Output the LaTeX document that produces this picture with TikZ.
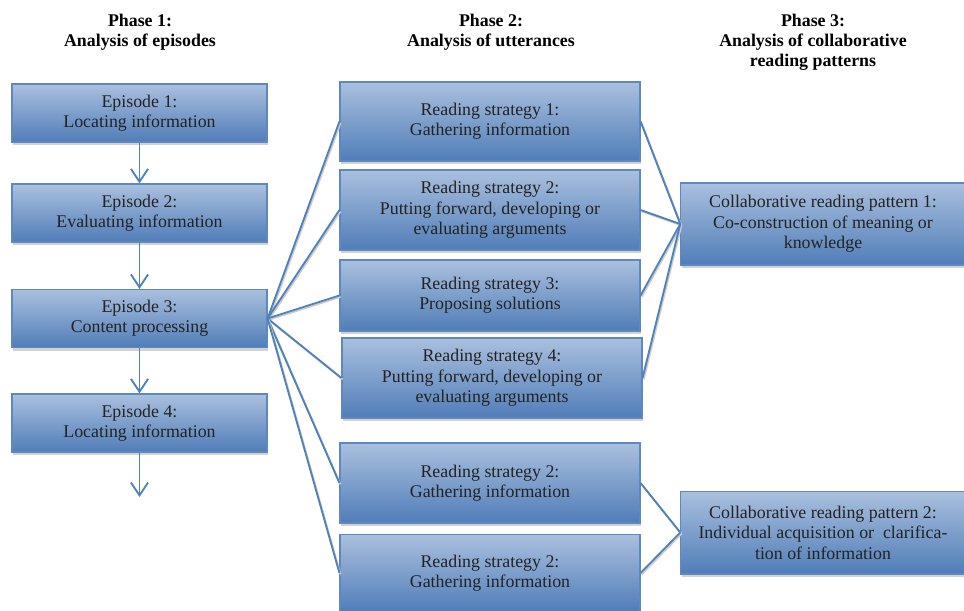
\documentclass[tikz,border=0pt]{standalone}
\usepackage{fontspec}
\setmainfont{Liberation Serif}
\usetikzlibrary{arrows.meta, positioning, shadows}
\definecolor{boxtop}{RGB}{170,192,222}
\definecolor{boxbot}{RGB}{80,125,184}
\definecolor{boxline}{RGB}{95,135,192}
\definecolor{linkblue}{RGB}{79,129,189}
\definecolor{txtgray}{RGB}{35,35,35}

\begin{document}
\begin{tikzpicture}[
  x=0.7pt, y=-0.7pt,
  box/.style={rectangle, draw=boxline, line width=0.8pt,
              top color=boxtop, bottom color=boxbot,
              minimum width=#1, align=center, text=txtgray,
              font=\fontsize{12.5}{14.3}\selectfont,
              drop shadow={shadow xshift=0.6pt, shadow yshift=-2.2pt,
                           fill=gray!70, opacity=0.5}},
  head/.style={align=center, text=black,
               font=\bfseries\fontsize{12.5}{14}\selectfont},
  link/.style={draw=linkblue, line width=1.3pt,
               preaction={draw=gray!40, line width=1.2pt,
                          transform canvas={shift={(0.8pt,-1pt)}}}},
  arr/.style={-{Straight Barb[length=9pt, width=12pt]},
              draw=linkblue, line width=1.3pt}
]
\useasboundingbox (0,0) rectangle (964,611);

%% Headers
\node[head, anchor=north] (ph1) at (140,9) {Phase 1:\\Analysis of episodes};
\node[head, anchor=north] (ph2) at (491,9) {Phase 2:\\Analysis of utterances};
\node[head, anchor=north] (ph3) at (813,9) {Phase 3:\\Analysis of collaborative\\reading patterns};

%% Phase 1: episodes
\node[box=178.5pt, minimum height=40.6pt] (ep1) at (139.5,113)   {Episode 1:\\Locating information};
\node[box=178.5pt, minimum height=40.6pt] (ep2) at (139.5,213)   {Episode 2:\\Evaluating information};
\node[box=178.5pt, minimum height=40.6pt] (ep3) at (139.5,318.5) {Episode 3:\\Content processing};
\node[box=178.5pt, minimum height=40.6pt] (ep4) at (139.5,423)   {Episode 4:\\Locating information};
\coordinate (epend) at (139.5,497);

\draw[arr] (ep1) -- (ep2);
\draw[arr] (ep2) -- (ep3);
\draw[arr] (ep3) -- (ep4);
\draw[arr] (ep4) -- (epend);

%% Phase 2: reading strategies
\node[box=210pt, minimum height=55.3pt] (rs1) at (490,121.5) {Reading strategy 1:\\Gathering information};
\node[box=210pt, minimum height=56pt]   (rs2) at (490,210)   {Reading strategy 2:\\Putting forward, developing or\\evaluating arguments};
\node[box=210pt, minimum height=49.7pt] (rs3) at (490,295.5) {Reading strategy 3:\\Proposing solutions};
\node[box=210pt, minimum height=56pt]   (rs4) at (492,378)   {Reading strategy 4:\\Putting forward, developing or\\evaluating arguments};
\node[box=210pt, minimum height=56pt]   (rs5) at (490,483)   {Reading strategy 2:\\Gathering information};
\node[box=210pt, minimum height=54pt]   (rs6) at (490,573)   {Reading strategy 2:\\Gathering information};

\foreach \r in {rs1,rs2,rs3,rs4,rs5,rs6}
  \draw[link] (ep3.east) -- (\r.west);

%% Phase 3: collaborative reading patterns
\node[box=199pt, minimum height=57.4pt] (crp1) at (823,224)   {Collaborative reading pattern 1:\\Co-construction of meaning or\\knowledge};
\node[box=199pt, minimum height=58pt]   (crp2) at (823,532.5) {Collaborative reading pattern 2:\\Individual acquisition or~ clarifica-\\tion of information};

\foreach \r in {rs1,rs2,rs3,rs4}
  \draw[link] (\r.east) -- (crp1.west);
\foreach \r in {rs5,rs6}
  \draw[link] (\r.east) -- (crp2.west);
\end{tikzpicture}
\end{document}
